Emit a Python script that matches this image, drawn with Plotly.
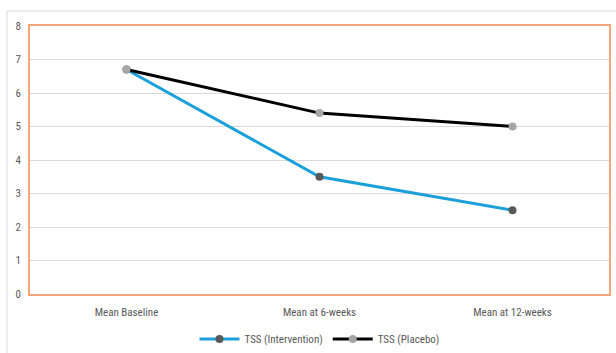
import plotly.graph_objects as go

categories = ["Mean Baseline", "Mean at 6-weeks", "Mean at 12-weeks"]
intervention = [6.7, 3.5, 2.5]
placebo = [6.7, 5.4, 5.0]
y_ticks = [0, 1, 2, 3, 4, 5, 6, 7, 8]

FONT = "Liberation Sans Narrow, Arial Narrow, Roboto Condensed, sans-serif"

fig = go.Figure()
fig.add_trace(go.Scatter(
    x=categories, y=intervention, name="TSS (Intervention)", mode="lines+markers",
    line=dict(color="#1CA0DA", width=3),
    marker=dict(color="#595959", size=8),
))
fig.add_trace(go.Scatter(
    x=categories, y=placebo, name="TSS (Placebo)", mode="lines+markers",
    line=dict(color="#000000", width=3),
    marker=dict(color="#A6A6A6", size=8),
))

fig.update_layout(
    width=616, height=353,
    margin=dict(l=30, r=7, t=26, b=59),
    paper_bgcolor="white", plot_bgcolor="white",
    font=dict(family=FONT, size=11, color="#595959"),
    showlegend=True,
    legend=dict(orientation="h", x=0.5, xanchor="center",
                yref="container", y=1 - 339 / 353, yanchor="middle",
                font=dict(size=11, color="#595959"), itemwidth=40),
    xaxis=dict(type="category", range=[-0.5, 2.5], showgrid=False, automargin=False,
               showline=True, linecolor="#F4A57A", linewidth=1.5, mirror=True,
               ticks="", ticklen=0, ticklabelstandoff=7,
               tickfont=dict(size=11, color="#595959")),
    yaxis=dict(range=[0, 8], tickvals=y_ticks, showgrid=True, gridcolor="#D9D9D9",
               gridwidth=1, zeroline=False, automargin=False,
               showline=True, linecolor="#F4A57A", linewidth=1.5, mirror=True,
               ticks="", ticklabelstandoff=5,
               tickfont=dict(size=11, color="#595959")),
    shapes=[dict(type="rect", xref="paper", yref="paper",
                 x0=-0.0397, x1=1.05, y0=-0.4, y1=1.056,
                 line=dict(color="#D9D9D9", width=1), layer="below")],
)

fig.write_html("out.html", config={"displayModeBar": False},
               post_script="document.body.style.margin='0';")
